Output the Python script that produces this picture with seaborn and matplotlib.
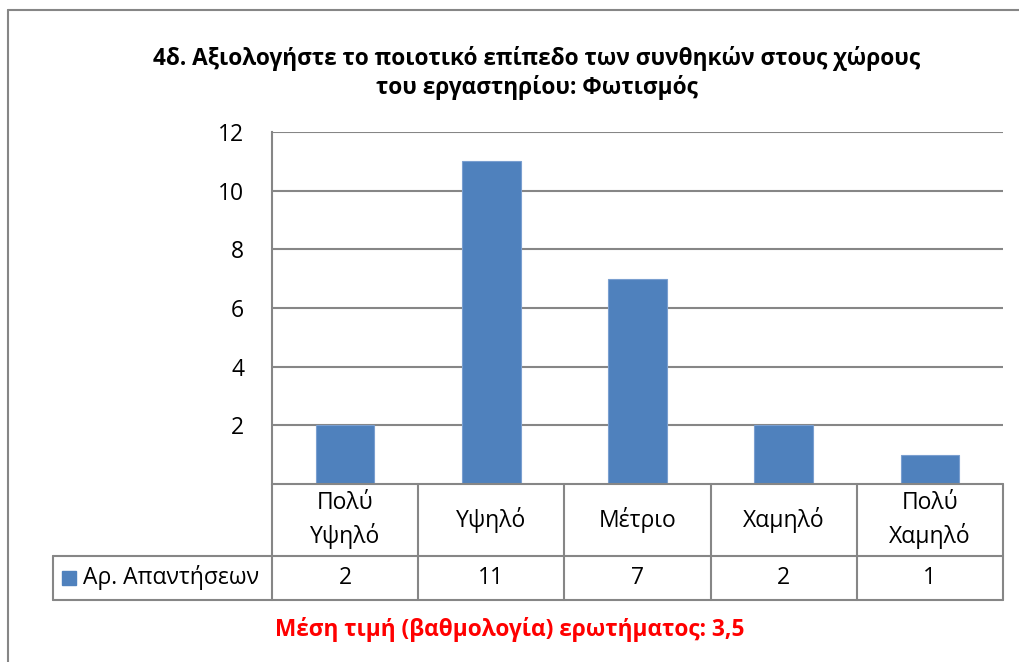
import matplotlib
matplotlib.use("Agg")
import matplotlib.pyplot as plt
import seaborn as sns
import pandas as pd
from matplotlib.lines import Line2D
from matplotlib.patches import Rectangle

categories = ["Πολύ\nΥψηλό", "Υψηλό", "Μέτριο", "Χαμηλό", "Πολύ\nΧαμηλό"]
values = [2, 11, 7, 2, 1]
series_name = "Αρ. Απαντήσεων"
yticks = [2, 4, 6, 8, 10, 12]
title = "4δ. Αξιολογήστε το ποιοτικό επίπεδο των συνθηκών στους χώρους\nτου εργαστηρίου: Φωτισμός"
footnote = "Μέση τιμή (βαθμολογία) ερωτήματος: 3,5"

sns.set_theme(style="white")
plt.rcParams['font.family'] = ['Open Sans', 'DejaVu Sans']

W, H = 1020, 662
fig = plt.figure(figsize=(W / 100, H / 100), dpi=100)
fig.patch.set_facecolor("white")

def fx(px):
    return px / W

def fy(py):
    return 1 - py / H

FS = 16.5
L, R, T, B = 272, 1003, 132, 484
ax = fig.add_axes([fx(L), fy(B), fx(R) - fx(L), fy(T) - fy(B)])
df = pd.DataFrame({"cat": categories, "val": values})
sns.barplot(data=df, x="cat", y="val", color="#4F81BD", width=0.4, saturation=1, ax=ax,
            zorder=3, edgecolor="#7A9FD0", linewidth=0.8)
ax.set_ylim(0, 12)
ax.set_xlim(-0.5, len(categories) - 0.5)
ax.set_yticks(yticks)
ax.set_yticklabels([str(t) for t in yticks], fontsize=FS)
ax.tick_params(axis="y", length=0, pad=20, colors="black")
ax.set_xticks([])
ax.set_xlabel("")
ax.set_ylabel("")
for t in yticks:
    ax.axhline(t, color="#868686", lw=1.5, zorder=1)
for s in ["top", "right", "bottom"]:
    ax.spines[s].set_visible(False)
ax.spines["left"].set_color("#868686")
ax.spines["left"].set_linewidth(1.5)

gc = "#868686"
def hline(y, x0, x1):
    fig.add_artist(Line2D([fx(x0), fx(x1)], [fy(y), fy(y)], color=gc, lw=1.5, transform=fig.transFigure))

def vline(x, y0, y1):
    fig.add_artist(Line2D([fx(x), fx(x)], [fy(y0), fy(y1)], color=gc, lw=1.5, transform=fig.transFigure))

# outer chart frame
fig.add_artist(Line2D([fx(8), fx(8)], [fy(10), 0], color=gc, lw=1.5, transform=fig.transFigure))
fig.add_artist(Line2D([fx(8), 1], [fy(10), fy(10)], color=gc, lw=1.5, transform=fig.transFigure))

# data table
row1, row2, row3 = 484, 556, 600
tx0 = 53
n = len(categories)
colw = (R - L) / n
hline(row1, L, R)
hline(row2, tx0, R)
hline(row3, tx0, R)
for i in range(n + 1):
    vline(L + i * colw, row1, row3)
vline(tx0, row2, row3)
for i, (c, v) in enumerate(zip(categories, values)):
    cx = L + (i + 0.5) * colw
    fig.text(fx(cx), fy((row1 + row2) / 2), c, ha="center", va="center", fontsize=FS,
             linespacing=1.4, color="black")
    fig.text(fx(cx), fy((row2 + row3) / 2), str(v), ha="center", va="center", fontsize=FS, color="black")

fig.add_artist(Rectangle((fx(62), fy(585)), fx(14), fy(571) - fy(585), color="#4F81BD",
                         transform=fig.transFigure))
fig.text(fx(83), fy((row2 + row3) / 2), series_name, ha="left", va="center", fontsize=FS, color="black")

fig.text(fx(537), fy(73), title, ha="center", va="center", fontsize=16.3, fontweight="bold",
         linespacing=1.25, color="black")
fig.text(fx(510), fy(630), footnote, ha="center", va="center", fontsize=16.3, fontweight="bold",
         color="#FF0000")

fig.savefig("out.png", dpi=100)
